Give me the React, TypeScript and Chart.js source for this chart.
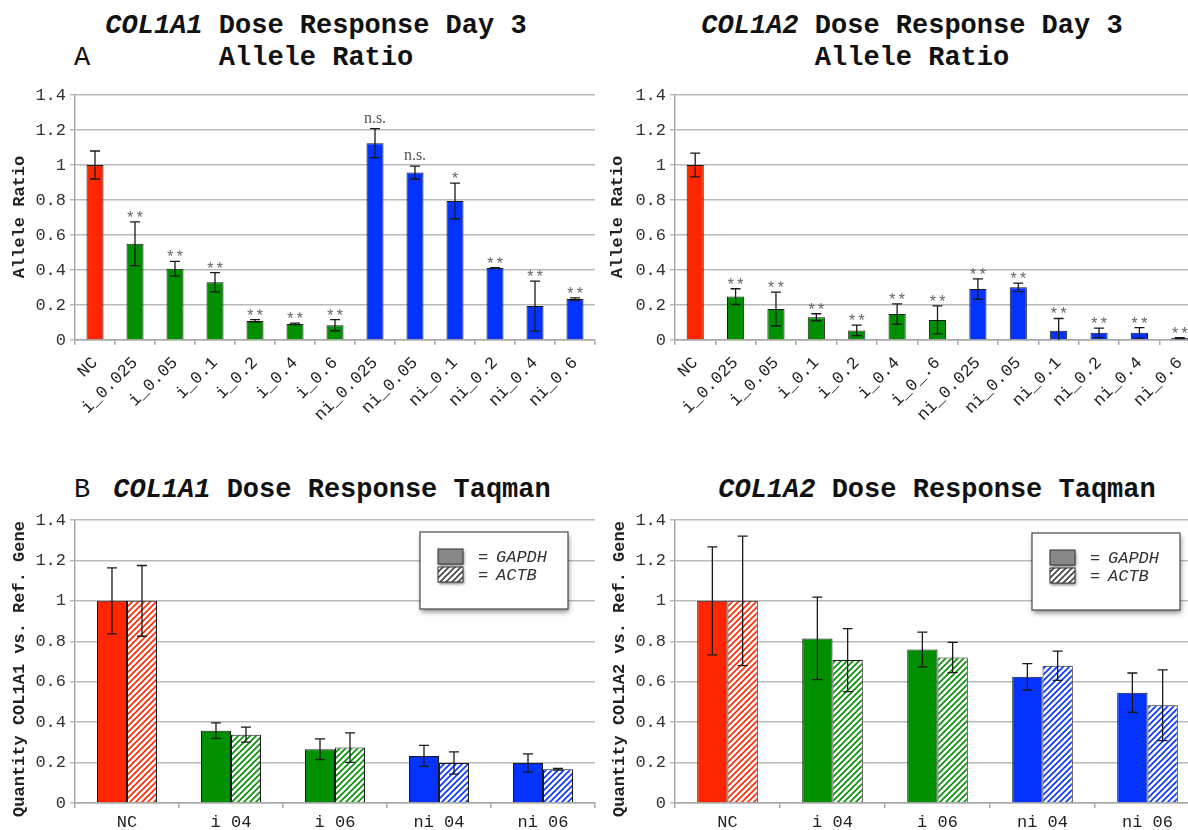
import React, { useEffect, useRef } from 'react';
import { Chart, registerables } from 'chart.js';

Chart.register(...registerables);
Chart.defaults.font.family = "'Liberation Mono', 'Courier New', monospace";
Chart.defaults.color = '#333';

// ---------- data ----------
const alleleCategoriesA1 = ['NC', 'i_0.025', 'i_0.05', 'i_0.1', 'i_0.2', 'i_0.4', 'i_0.6', 'ni_0.025', 'ni_0.05', 'ni_0.1', 'ni_0.2', 'ni_0.4', 'ni_0.6'];
const alleleCategoriesA2 = ['NC', 'i_0.025', 'i_0.05', 'i_0.1', 'i_0.2', 'i_0.4', 'i_0_.6', 'ni_0.025', 'ni_0.05', 'ni_0.1', 'ni_0.2', 'ni_0.4', 'ni_0.6'];
const alleleGroups = ['nc', 'i', 'i', 'i', 'i', 'i', 'i', 'ni', 'ni', 'ni', 'ni', 'ni', 'ni'];

const alleleRatioA1 = [1.0, 0.55, 0.407, 0.33, 0.109, 0.092, 0.085, 1.125, 0.957, 0.795, 0.411, 0.194, 0.234];
const alleleErrA1 = [0.08, 0.125, 0.042, 0.055, 0.007, 0.004, 0.032, 0.083, 0.037, 0.102, 0.002, 0.143, 0.007];
const alleleSigA1 = ['', '**', '**', '**', '**', '**', '**', 'n.s.', 'n.s.', '*', '**', '**', '**'];

const alleleRatioA2 = [1.0, 0.248, 0.177, 0.13, 0.055, 0.148, 0.115, 0.291, 0.301, 0.053, 0.041, 0.041, 0.011];
const alleleErrA2 = [0.068, 0.045, 0.097, 0.02, 0.03, 0.058, 0.08, 0.058, 0.024, 0.07, 0.027, 0.03, 0.003];
const alleleSigA2 = ['', '**', '**', '**', '**', '**', '**', '**', '**', '**', '**', '**', '**'];

const taqmanCategories = ['NC', 'i 04', 'i 06', 'ni 04', 'ni 06'];
const taqmanGroups = ['nc', 'i', 'i', 'ni', 'ni'];
const taqmanSeries = ['GAPDH', 'ACTB'];

const taqmanGapdhA1 = [1.0, 0.358, 0.266, 0.233, 0.198];
const taqmanGapdhErrA1 = [0.163, 0.038, 0.051, 0.052, 0.045];
const taqmanActbA1 = [1.0, 0.338, 0.274, 0.198, 0.167];
const taqmanActbErrA1 = [0.175, 0.037, 0.073, 0.055, 0.004];

const taqmanGapdhA2 = [1.0, 0.814, 0.759, 0.624, 0.546];
const taqmanGapdhErrA2 = [0.267, 0.204, 0.086, 0.065, 0.097];
const taqmanActbA2 = [1.0, 0.707, 0.72, 0.679, 0.484];
const taqmanActbErrA2 = [0.32, 0.156, 0.075, 0.072, 0.175];

// ---------- styles ----------
const GROUP_COLORS: Record<string, string> = { nc: '#FF2600', i: '#008F00', ni: '#0433FF' };
const GRID = '#b9b9b9';
const AXIS = '#a8a8a8';
const MONO = "'Liberation Mono', 'Courier New', monospace";

function makeHatch(color: string) {
  const c = document.createElement('canvas');
  c.width = 6;
  c.height = 6;
  const g = c.getContext('2d')!;
  g.fillStyle = '#ffffff';
  g.fillRect(0, 0, 6, 6);
  g.strokeStyle = color;
  g.lineWidth = 1.6;
  g.beginPath();
  g.moveTo(0, 6); g.lineTo(6, 0);
  g.moveTo(-1, 1); g.lineTo(1, -1);
  g.moveTo(5, 7); g.lineTo(7, 5);
  g.stroke();
  return g.createPattern(c, 'repeat')!;
}

const errorBarPlugin = {
  id: 'errorBars',
  afterDatasetsDraw(chart: any) {
    const ctx = chart.ctx;
    const ys = chart.scales.y;
    const area = chart.chartArea;
    chart.data.datasets.forEach((ds: any, di: number) => {
      if (!ds.errors) return;
      const meta = chart.getDatasetMeta(di);
      meta.data.forEach((bar: any, i: number) => {
        const v = ds.data[i];
        const e = ds.errors[i];
        const yt = ys.getPixelForValue(v + e);
        const yb = Math.min(ys.getPixelForValue(v - e), area.bottom);
        ctx.save();
        ctx.strokeStyle = '#1a1a1a';
        ctx.lineWidth = 1.3;
        ctx.beginPath();
        ctx.moveTo(bar.x, yt); ctx.lineTo(bar.x, yb);
        ctx.moveTo(bar.x - 5, yt); ctx.lineTo(bar.x + 5, yt);
        if (yb < area.bottom) { ctx.moveTo(bar.x - 5, yb); ctx.lineTo(bar.x + 5, yb); }
        ctx.stroke();
        const s = ds.sig ? ds.sig[i] : '';
        if (s) {
          ctx.textAlign = 'center';
          ctx.textBaseline = 'alphabetic';
          if (s === 'n.s.') {
            ctx.font = "16px 'Liberation Serif', serif";
            ctx.fillStyle = '#555';
            ctx.fillText(s, bar.x, yt - 6);
          } else {
            ctx.font = '16px ' + MONO;
            ctx.fillStyle = '#666';
            ctx.fillText(s, bar.x, yt + 1);
          }
        }
        ctx.restore();
      });
    });
  },
};

const yTitlePlugin = {
  id: 'yTitle',
  afterDraw(chart: any, _args: any, opts: any) {
    if (!opts || !opts.text) return;
    const ctx = chart.ctx;
    ctx.save();
    ctx.translate(opts.x, opts.cy);
    ctx.rotate(-Math.PI / 2);
    ctx.font = 'bold 17px ' + MONO;
    ctx.fillStyle = '#222';
    ctx.textAlign = 'center';
    ctx.textBaseline = 'middle';
    ctx.fillText(opts.text, 0, 0);
    ctx.restore();
  },
};

const legendBoxPlugin = {
  id: 'legendBox',
  afterDraw(chart: any, _args: any, opts: any) {
    if (!opts || !opts.display) return;
    const ctx = chart.ctx;
    const w = opts.width, h = opts.height;
    const x = chart.chartArea.right - opts.right - w;
    const y = chart.chartArea.top + opts.top;
    ctx.save();
    ctx.shadowColor = 'rgba(0,0,0,0.45)';
    ctx.shadowBlur = 5;
    ctx.shadowOffsetX = 1;
    ctx.shadowOffsetY = 3;
    ctx.fillStyle = '#fff';
    ctx.fillRect(x, y, w, h);
    ctx.shadowColor = 'transparent';
    ctx.strokeStyle = '#4a4a4a';
    ctx.lineWidth = 1.2;
    ctx.strokeRect(x, y, w, h);
    const fills = [opts.solid, opts.hatch];
    chart.data.datasets.forEach((ds: any, i: number) => {
      const sy = y + 17 + i * 18;
      ctx.save();
      ctx.shadowColor = 'rgba(0,0,0,0.5)';
      ctx.shadowBlur = 3;
      ctx.shadowOffsetY = 2;
      ctx.fillStyle = fills[i];
      ctx.fillRect(x + 18, sy, 25, 15);
      ctx.restore();
      ctx.strokeStyle = '#333';
      ctx.lineWidth = 1;
      ctx.strokeRect(x + 18, sy, 25, 15);
      ctx.fillStyle = '#333';
      ctx.textBaseline = 'middle';
      ctx.textAlign = 'left';
      ctx.font = '17px ' + MONO;
      ctx.fillText('=', x + 58, sy + 8);
      ctx.font = 'italic 17px ' + MONO;
      ctx.fillText(ds.label, x + 76, sy + 8);
    });
    ctx.restore();
  },
};

function yAxis() {
  return {
    min: 0,
    max: 1.4,
    afterFit: (s: any) => { s.width = 75; },
    ticks: {
      stepSize: 0.2,
      color: '#333',
      font: { size: 17 },
      padding: 4,
      callback: (v: any) => String(Math.round(Number(v) * 10) / 10),
    },
    grid: { color: GRID, lineWidth: 1.5, tickLength: 5, tickColor: GRID },
    border: { color: AXIS, width: 1.5 },
    title: { display: false },
  };
}

function xAxis(height: number, rotated: boolean) {
  return {
    afterFit: (s: any) => { s.height = height; },
    ticks: {
      autoSkip: false,
      maxRotation: rotated ? 45 : 0,
      minRotation: rotated ? 45 : 0,
      color: '#222',
      font: { size: 17 },
      padding: rotated ? 8 : 4,
    },
    grid: { offset: true, drawOnChartArea: false, color: AXIS, lineWidth: 1.5, tickLength: 5 },
    border: { color: AXIS, width: 1.5 },
  };
}

function alleleConfig(labels: string[], values: number[], errors: number[], sig: string[], titleX: number) {
  return {
    type: 'bar',
    data: {
      labels,
      datasets: [{
        label: 'Allele Ratio',
        data: values,
        errors,
        sig,
        backgroundColor: alleleGroups.map((g) => GROUP_COLORS[g]),
        borderColor: '#1a1a1a',
        borderWidth: 1,
        barPercentage: 0.425,
        categoryPercentage: 1,
      }],
    },
    options: {
      responsive: false,
      animation: false,
      devicePixelRatio: 1,
      layout: { padding: { top: 95, right: 5, left: 0, bottom: 0 } },
      plugins: {
        legend: { display: false },
        tooltip: { enabled: false },
        yTitle: { text: 'Allele Ratio', x: titleX, cy: 217 },
      },
      scales: { x: xAxis(110, true), y: yAxis() },
    },
    plugins: [errorBarPlugin, yTitlePlugin],
  };
}

function taqmanConfig(gapdh: number[], gapdhErr: number[], actb: number[], actbErr: number[], yTitle: string, titleX: number, legendRight: number, legendTop: number) {
  return {
    type: 'bar',
    data: {
      labels: taqmanCategories,
      datasets: [
        {
          label: taqmanSeries[0],
          data: gapdh,
          errors: gapdhErr,
          backgroundColor: taqmanGroups.map((g) => GROUP_COLORS[g]),
          borderColor: '#1a1a1a',
          borderWidth: 1,
          barPercentage: 1,
          categoryPercentage: 0.577,
        },
        {
          label: taqmanSeries[1],
          data: actb,
          errors: actbErr,
          backgroundColor: taqmanGroups.map((g) => makeHatch(GROUP_COLORS[g])),
          borderColor: '#1a1a1a',
          borderWidth: 1,
          barPercentage: 1,
          categoryPercentage: 0.577,
        },
      ],
    },
    options: {
      responsive: false,
      animation: false,
      devicePixelRatio: 1,
      layout: { padding: { top: 80, right: 5, left: 0, bottom: 0 } },
      plugins: {
        legend: { display: false },
        tooltip: { enabled: false },
        yTitle: { text: yTitle, x: titleX, cy: 229 },
        legendBox: {
          display: true,
          width: 148,
          height: 77,
          right: legendRight,
          top: legendTop,
          solid: '#888888',
          hatch: makeHatch('#444444'),
        },
      },
      scales: { x: xAxis(27, false), y: yAxis() },
    },
    plugins: [errorBarPlugin, legendBoxPlugin, yTitlePlugin],
  };
}

function ChartCanvas(props: { left: number; top: number; width: number; height: number; make: () => any }) {
  const ref = useRef<HTMLCanvasElement>(null);
  useEffect(() => {
    const chart = new Chart(ref.current as HTMLCanvasElement, props.make());
    return () => chart.destroy();
  }, []);
  return (
    <canvas
      ref={ref}
      width={props.width}
      height={props.height}
      style={{ position: 'absolute', left: props.left, top: props.top, width: props.width, height: props.height }}
    />
  );
}

const titleBase: React.CSSProperties = {
  position: 'absolute',
  fontFamily: MONO,
  fontWeight: 'bold',
  fontSize: 27,
  lineHeight: '32px',
  whiteSpace: 'pre',
  color: '#111',
  textAlign: 'center',
  width: 600,
};

const letterBase: React.CSSProperties = {
  position: 'absolute',
  fontFamily: MONO,
  fontSize: 27,
  lineHeight: '32px',
  color: '#111',
};

export default function App() {
  return (
    <div style={{ position: 'fixed', left: 0, top: 0, width: 1188, height: 830, overflow: 'hidden', background: '#fff' }}>
      <div style={{ ...titleBase, left: 316 - 300, top: 10 }}><i>COL1A1</i> Dose Response Day 3</div>
      <div style={{ ...titleBase, left: 316 - 300, top: 42 }}>Allele Ratio</div>
      <div style={{ ...letterBase, left: 74, top: 42 }}>A</div>

      <div style={{ ...titleBase, left: 912 - 300, top: 10 }}><i>COL1A2</i> Dose Response Day 3</div>
      <div style={{ ...titleBase, left: 912 - 300, top: 42 }}>Allele Ratio</div>

      <div style={{ ...letterBase, left: 74, top: 474 }}>B</div>
      <div style={{ ...titleBase, left: 332 - 300, top: 474 }}><i>COL1A1</i> Dose Response Taqman</div>
      <div style={{ ...titleBase, left: 937 - 300, top: 474 }}><i>COL1A2</i> Dose Response Taqman</div>

      <ChartCanvas left={0} top={0} width={600} height={450}
        make={() => alleleConfig(alleleCategoriesA1, alleleRatioA1, alleleErrA1, alleleSigA1, 20)} />
      <ChartCanvas left={600} top={0} width={605} height={450}
        make={() => alleleConfig(alleleCategoriesA2, alleleRatioA2, alleleErrA2, alleleSigA2, 18)} />
      <ChartCanvas left={0} top={440} width={600} height={390}
        make={() => taqmanConfig(taqmanGapdhA1, taqmanGapdhErrA1, taqmanActbA1, taqmanActbErrA1, 'Quantity COL1A1 vs. Ref. Gene', 20, 27, 12)} />
      <ChartCanvas left={600} top={440} width={605} height={390}
        make={() => taqmanConfig(taqmanGapdhA2, taqmanGapdhErrA2, taqmanActbA2, taqmanActbErrA2, 'Quantity COL1A2 vs. Ref. Gene', 20, 20, 13)} />
    </div>
  );
}
